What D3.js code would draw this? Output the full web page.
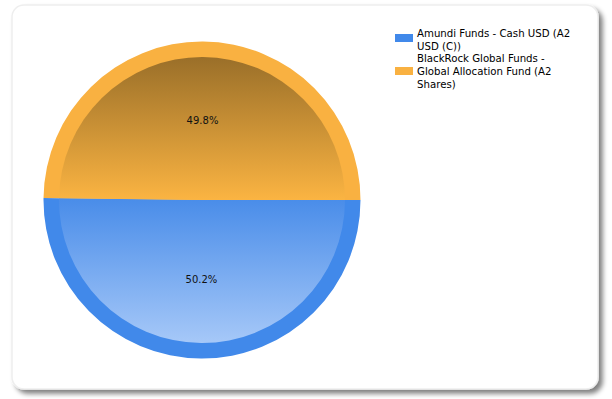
<!DOCTYPE html>
<html>
<head>
<meta charset="utf-8">
<script src="https://cdn.jsdelivr.net/npm/d3@7"></script>
<style>
  body { margin: 0; background: #fff; }
  text { font-family: "DejaVu Sans", sans-serif; }
</style>
</head>
<body>
<script>
var width = 612
var height = 399

var funds = ['Amundi Funds - Cash USD (A2 USD (C))', 'BlackRock Global Funds - Global Allocation Fund (A2 Shares)']
var shares = [50.2, 49.8]
var legendLines = [['Amundi Funds - Cash USD (A2', 'USD (C))'], ['BlackRock Global Funds -', 'Global Allocation Fund (A2', 'Shares)']]
var ringColors = ['#4189ea', '#f9b141']
var gradTop = ['#4a8de9', '#9a6f29']
var gradBottom = ['#a6c8f8', '#fbb442']

var svg = d3.select('body').append('svg').attr('width', width).attr('height', height)
var defs = svg.append('defs')

// card shadow
var f = defs.append('filter').attr('id', 'shadow').attr('x', '-5%').attr('y', '-5%').attr('width', '115%').attr('height', '115%')
f.append('feGaussianBlur').attr('in', 'SourceAlpha').attr('stdDeviation', 2.5)
f.append('feOffset').attr('dx', 4).attr('dy', 4).attr('result', 'b')
f.append('feComponentTransfer').append('feFuncA').attr('type', 'linear').attr('slope', 0.5)
var m = f.append('feMerge')
m.append('feMergeNode')
m.append('feMergeNode').attr('in', 'SourceGraphic')

svg.append('rect')
    .attr('x', 12).attr('y', 5)
    .attr('width', 586).attr('height', 384)
    .attr('rx', 12)
    .attr('fill', '#fff')
    .attr('stroke', '#eeeeee')
    .attr('stroke-width', 1.5)
    .attr('filter', 'url(#shadow)')

var cx = 202, cy = 200, outerR = 158.5, innerR = 143

shares.forEach(function (s, i) {
    var g = defs.append('linearGradient').attr('id', 'g' + i)
        .attr('gradientUnits', 'userSpaceOnUse')
        .attr('x1', 0).attr('x2', 0)
        .attr('y1', i === 0 ? 0 : -innerR).attr('y2', i === 0 ? innerR : 0)
    g.append('stop').attr('offset', 0).attr('stop-color', gradTop[i])
    g.append('stop').attr('offset', 1).attr('stop-color', gradBottom[i])
})

var pie = d3.pie().sort(null).value(function (d) { return d })
    .startAngle(Math.PI / 2).endAngle(Math.PI / 2 + 2 * Math.PI)
var arcs = pie(shares)

var outerArc = d3.arc().innerRadius(0).outerRadius(outerR)
var innerArc = d3.arc().innerRadius(0).outerRadius(innerR)
var labelArc = d3.arc().innerRadius(80).outerRadius(80)

var chart = svg.append('g').attr('transform', 'translate(' + cx + ',' + cy + ')')

chart.selectAll('path.outer').data(arcs).enter().append('path')
    .attr('class', 'outer')
    .attr('d', outerArc)
    .attr('fill', function (d, i) { return ringColors[i] })

chart.selectAll('path.inner').data(arcs).enter().append('path')
    .attr('class', 'inner')
    .attr('d', innerArc)
    .attr('fill', function (d, i) { return 'url(#g' + i + ')' })

chart.selectAll('text.lbl').data(arcs).enter().append('text')
    .attr('class', 'lbl')
    .attr('transform', function (d) { return 'translate(' + labelArc.centroid(d) + ')' })
    .attr('text-anchor', 'middle')
    .attr('dy', '0.35em')
    .attr('font-size', 10)
    .attr('fill', '#111')
    .text(function (d) { return d.data.toFixed(1) + '%' })

// legend
var legend = svg.append('g').attr('transform', 'translate(395,0)')
var swatchY = [34, 67]
var textY = [37, 62]
legendLines.forEach(function (lines, i) {
    legend.append('rect')
        .attr('x', 0).attr('y', swatchY[i])
        .attr('width', 18).attr('height', 8)
        .attr('fill', ringColors[i])
    var t = legend.append('text')
        .attr('x', 22)
        .attr('y', textY[i])
        .attr('font-size', 10.2)
        .attr('fill', '#000')
    lines.forEach(function (l, j) {
        t.append('tspan').attr('x', 22).attr('dy', j === 0 ? 0 : 13).text(l)
    })
})
</script>
</body>
</html>
